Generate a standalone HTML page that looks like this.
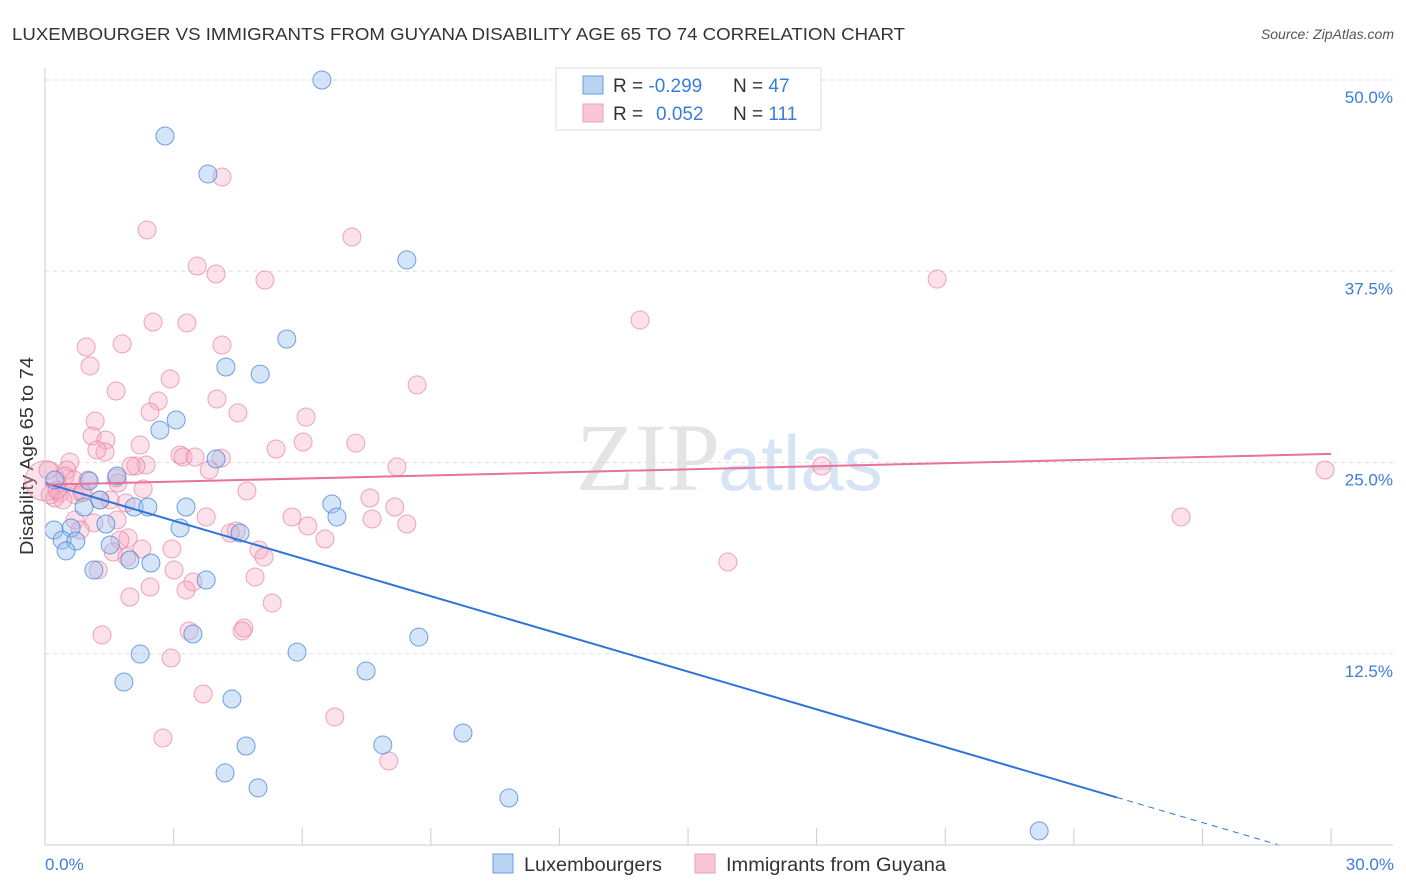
<!DOCTYPE html>
<html><head><meta charset="utf-8"><style>
body{margin:0;background:#fff;font-family:"Liberation Sans",sans-serif}
#c{position:absolute;left:0;top:0}
</style></head><body>
<svg id="c" width="1406" height="892" xmlns="http://www.w3.org/2000/svg">
<text x="12" y="40" font-size="17.5" fill="#333" textLength="893" lengthAdjust="spacingAndGlyphs">LUXEMBOURGER VS IMMIGRANTS FROM GUYANA DISABILITY AGE 65 TO 74 CORRELATION CHART</text>
<text x="1394" y="39" font-size="14" fill="#555" font-style="italic" text-anchor="end">Source: ZipAtlas.com</text>
<text x="720" y="490" font-size="96" fill="#e4e4e4" text-anchor="end" font-family="Liberation Serif,serif">ZIP</text>
<text x="718" y="490" font-size="78" fill="#d6e4f4">atlas</text>
<text transform="translate(33,456) rotate(-90)" font-size="18" fill="#333" text-anchor="middle" textLength="198" lengthAdjust="spacingAndGlyphs">Disability Age 65 to 74</text>
<g id="grid"></g><g id="pts"></g><g id="trend"></g>
<line x1="45" y1="68" x2="45" y2="845" stroke="#ccc"/>
<line x1="45" y1="845" x2="1393" y2="845" stroke="#ccc"/>
<text x="45" y="870" font-size="17" fill="#3b7dd8">0.0%</text>
<text x="1394" y="870" font-size="17" fill="#3b7dd8" text-anchor="end">30.0%</text>
<g>
<rect x="556" y="68" width="265" height="62" fill="#fff" stroke="#ddd"/>
<rect x="583" y="76" width="20" height="18" fill="#b9d3f3" stroke="#6b9be0"/>
<rect x="583" y="104" width="20" height="18" fill="#f9c6d5" stroke="#eaa0b8"/>
<text x="613" y="92" font-size="19" fill="#333">R = <tspan fill="#3b7dd8">-0.299</tspan><tspan x="733">N = </tspan><tspan fill="#3b7dd8">47</tspan></text>
<text x="613" y="120" font-size="19" fill="#333">R = <tspan fill="#3b7dd8" x="656">0.052</tspan><tspan x="733">N = </tspan><tspan fill="#3b7dd8">111</tspan></text>
</g>
<g>
<rect x="493" y="854" width="20" height="19" fill="#b9d3f3" stroke="#6b9be0"/>
<text x="524" y="871" font-size="19" fill="#333" textLength="138" lengthAdjust="spacingAndGlyphs">Luxembourgers</text>
<rect x="695" y="854" width="20" height="19" fill="#f9c6d5" stroke="#eaa0b8"/>
<text x="726" y="871" font-size="19" fill="#333" textLength="220" lengthAdjust="spacingAndGlyphs">Immigrants from Guyana</text>
</g>
</svg>
<script>
const yTicks=[12.5,25,37.5,50];
const yTickLabels=["12.5%","25.0%","37.5%","50.0%"];
const xTicks=[3,6,9,12,15,18,21,24,27,30];
const blueX=[6.46,2.80,3.80,8.44,5.64,4.22,5.02,3.06,2.68,3.99,1.68,1.03,0.23,1.28,2.08,2.40,3.29,6.69,6.81,0.91,0.61,0.21,3.15,4.55,1.42,0.40,0.72,1.52,0.49,1.98,2.47,1.14,3.76,3.45,8.72,5.88,2.22,7.49,1.84,4.36,4.69,7.88,9.75,4.20,4.97,10.82,23.19];
const blueY=[50.0,46.34,43.86,38.24,33.07,31.24,30.78,27.78,27.12,25.23,24.12,23.79,23.86,22.55,22.09,22.09,22.09,22.29,21.44,22.09,20.72,20.59,20.72,20.39,20.98,19.93,19.87,19.61,19.22,18.63,18.43,17.97,17.32,13.79,13.59,12.61,12.48,11.37,10.65,9.54,6.47,6.54,7.32,4.71,3.73,3.07,0.92];
const pinkX=[0,4.13,2.38,7.16,3.55,3.99,5.13,20.81,2.52,3.31,13.88,0.96,1.80,4.13,1.05,2.92,1.66,8.68,2.64,4.01,2.45,4.50,6.09,1.17,1.10,1.42,7.25,5.39,6.02,3.15,2.22,1.40,1.21,3.22,4.11,3.50,3.83,8.21,18.12,29.86,2.36,2.12,2.01,0.58,0.51,0.47,0.07,0.68,1.70,1.00,1.66,2.29,4.71,7.58,8.16,1.52,1.28,1.89,0.35,0.70,0.86,0.23,0.12,0.42,26.50,3.76,5.76,7.63,8.44,6.13,1.14,0.70,1.68,4.46,1.94,1.75,6.53,2.26,2.96,1.59,4.99,5.11,1.91,3.01,15.93,1.24,3.45,4.90,2.45,3.29,1.98,5.30,1.33,3.36,4.64,4.60,2.94,3.69,6.76,2.75,8.02,0.82,4.32,0.89,0.28];
const pinkY=[23.8,43.66,40.20,39.74,37.84,37.32,36.93,36.99,34.18,34.12,34.31,32.55,32.75,32.68,31.31,30.46,29.67,30.07,29.02,29.15,28.30,28.24,27.97,27.71,26.73,26.47,26.27,25.88,26.34,25.49,26.14,25.69,25.82,25.36,25.29,25.36,24.51,24.71,24.77,24.51,24.84,24.77,24.77,25.03,24.51,24.12,24.51,23.86,23.66,23.86,23.99,23.27,23.14,22.68,22.09,22.55,22.55,22.35,23.01,22.88,23.01,22.68,22.88,22.55,21.44,21.44,21.44,21.31,20.98,20.85,21.05,21.24,21.24,20.52,20.07,19.93,20.00,19.35,19.35,19.15,19.28,18.82,18.82,17.97,18.50,17.97,17.19,17.52,16.86,16.67,16.21,15.82,13.73,13.99,14.18,13.99,12.22,9.87,8.37,6.99,5.49,20.59,20.39,23.07,23.20];
const blueTrend=[23.66,-0.822];
const pinkTrend=[23.55,0.067];
const NS="http://www.w3.org/2000/svg";
const sx=v=>45+v*42.87, sy=v=>845-v*15.3;
function mk(tag,attrs,parent){const e=document.createElementNS(NS,tag);for(const k in attrs)e.setAttribute(k,attrs[k]);document.getElementById(parent).appendChild(e);return e;}
yTicks.forEach((t,i)=>{
 const l=mk('line',{x1:45,x2:1393,y1:sy(t),y2:sy(t),stroke:'#ddd','stroke-dasharray':'4,4'},'grid');
 
 
 const tx=mk('text',{x:1393,y:sy(t)+23,'font-size':17,fill:'#3b7dd8','text-anchor':'end'},'grid');
 tx.textContent=yTickLabels[i];
 
 
});
xTicks.forEach(t=>{
 const l=mk('line',{x1:sx(t),x2:sx(t),y1:828,y2:845,stroke:'#ccc'},'grid');
 
 
});
pinkX.forEach((x,i)=>{
 const c=mk('circle',{cx:sx(x),cy:sy(pinkY[i]),r:i===0?20:9,fill:'rgba(245,170,195,0.35)',stroke:'rgba(230,130,160,0.7)','stroke-width':1},'pts');
 
 
});
blueX.forEach((x,i)=>{
 const c=mk('circle',{cx:sx(x),cy:sy(blueY[i]),r:9,fill:'rgba(150,190,240,0.4)',stroke:'rgba(70,130,215,0.75)','stroke-width':1},'pts');
 
 
});
const bEnd=25;
let l=mk('line',{x1:sx(0),y1:sy(blueTrend[0]),x2:sx(bEnd),y2:sy(blueTrend[0]+blueTrend[1]*bEnd),stroke:'#2f74d8','stroke-width':2},'trend');


l=mk('line',{x1:sx(bEnd),y1:sy(blueTrend[0]+blueTrend[1]*bEnd),x2:sx(28.8),y2:sy(blueTrend[0]+blueTrend[1]*28.8),stroke:'#2f74d8','stroke-width':1,'stroke-dasharray':'6,5'},'trend');


l=mk('line',{x1:sx(0),y1:sy(pinkTrend[0]),x2:sx(30),y2:sy(pinkTrend[0]+pinkTrend[1]*30),stroke:'#e8729a','stroke-width':2},'trend');


</script>
</body></html>
